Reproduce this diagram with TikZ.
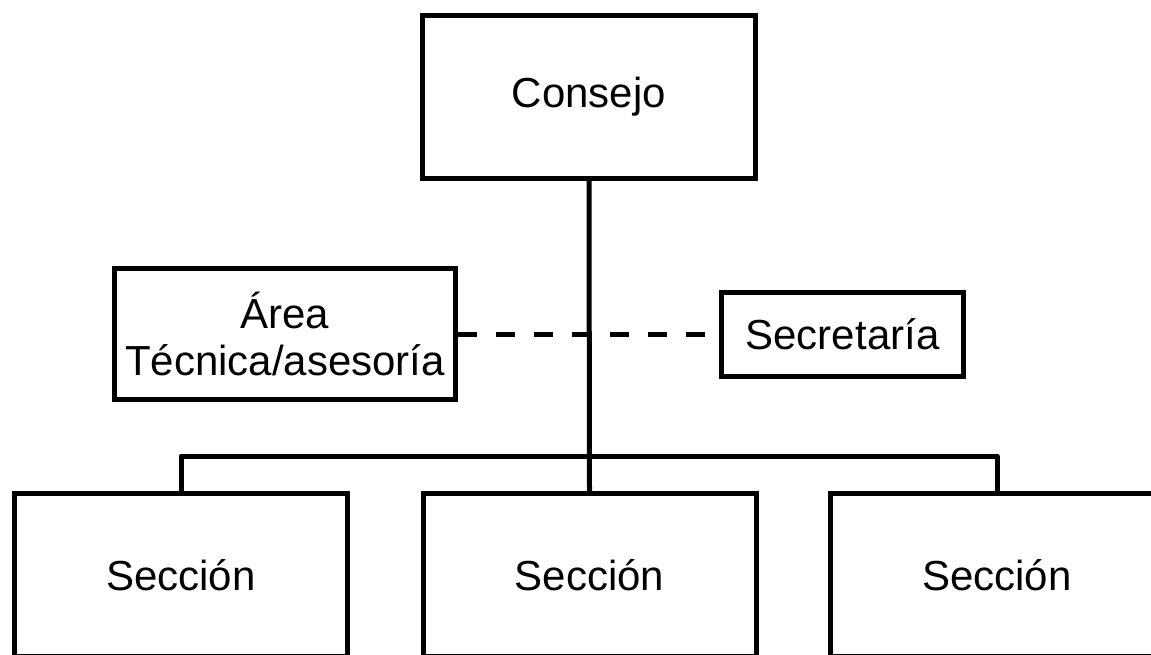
\documentclass[tikz,border=0pt]{standalone}
\usepackage{fontspec}
\setmainfont{Liberation Sans}
\begin{document}
\begin{tikzpicture}[x=1pt,y=-1pt,
    caja/.style={draw,rectangle,line width=5pt,inner sep=0pt,align=center,
        font=\fontsize{42}{47}\selectfont},
    linea/.style={line width=5pt}]
    \useasboundingbox (0,0) rectangle (1151,655);

    % Consejo arriba
    \node[caja,minimum width=333pt,minimum height=163pt] (consejo) at (589,97) {Consejo};

    % Cajas laterales
    \node[caja,minimum width=341pt,minimum height=131pt] (area) at (285,334) {Área\\Técnica/asesoría};
    \node[caja,minimum width=242pt,minimum height=84pt] (secretaria) at (842.5,334) {Secretaría};

    % Secciones abajo
    \node[caja,minimum width=333pt,minimum height=163pt] (sec1) at (181,575) {Sección};
    \node[caja,minimum width=333pt,minimum height=163pt] (sec2) at (589.5,575) {Sección};
    \node[caja,minimum width=333pt,minimum height=163pt] (sec3) at (997,575) {Sección};

    % Lineas de mando
    \coordinate (bus) at (589,456);
    \draw[linea] (consejo.south) -- (sec2.north);
    \draw[linea,line join=round] (sec1.north) |- (bus) -| (sec3.north);

    % Linea de apoyo (discontinua)
    \draw[linea,dash pattern=on 19pt off 19pt] (area.east) -- (secretaria.west);
\end{tikzpicture}
\end{document}
